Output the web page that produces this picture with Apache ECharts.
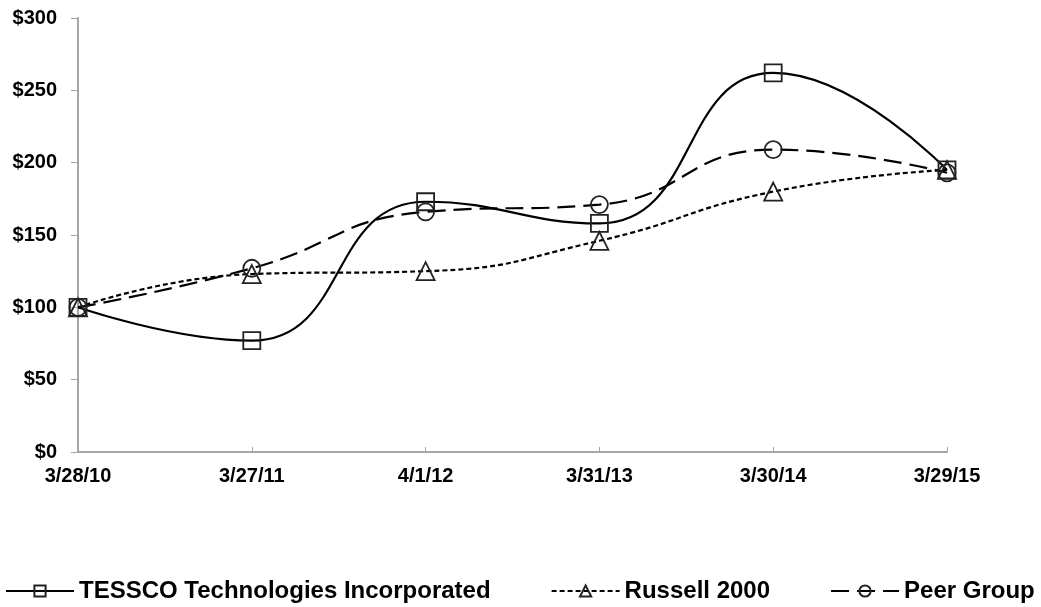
<!DOCTYPE html>
<html><head><meta charset="utf-8">
<script src="https://cdn.jsdelivr.net/npm/echarts@6/dist/echarts.min.js"></script>
<style>html,body{margin:0;padding:0;background:#fff}#c{width:1041px;height:607px}</style>
</head><body><div id="c"></div>
<script>
var categories = ['3/28/10','3/27/11','4/1/12','3/31/13','3/30/14','3/29/15'];
var tessco = [100, 77, 173, 158, 262, 195];
var russell = [100, 123, 125, 146, 180, 195];
var peer = [100, 127, 166, 171, 209, 193];
var names = ['TESSCO Technologies Incorporated','Russell 2000','Peer Group'];

var font = 'Liberation Sans, Arial, sans-serif';
var chart = echarts.init(document.getElementById('c'));
function mk(name, data, symbol, size, dash) {
  return {
    name: name, type: 'line', data: data, smooth: 0.5,
    symbol: symbol, symbolSize: size,
    lineStyle: {color: '#000', width: 2.2, type: dash},
    itemStyle: {color: 'rgba(255,255,255,0)', borderColor: '#222', borderWidth: 1.8},
    z: 2
  };
}
chart.setOption({
  animation: false,
  grid: {left: 78, right: 94, top: 18, bottom: 155},
  legend: {
    top: 579, left: 5, width: 1036, padding: 0, itemWidth: 68, itemHeight: 14, itemGap: 60,
    textStyle: {fontFamily: font, fontWeight: 'bold', fontSize: 24, color: '#000'},
    data: names
  },
  xAxis: {
    type: 'category', data: categories, boundaryGap: false,
    axisLine: {lineStyle: {color: '#a6a6a6', width: 2}},
    axisTick: {inside: true, length: 5, lineStyle: {color: '#a6a6a6', width: 1}},
    axisLabel: {fontFamily: font, fontWeight: 'bold', fontSize: 20, color: '#000', margin: 14}
  },
  yAxis: {
    type: 'value', min: 0, max: 300, interval: 50,
    splitLine: {show: false},
    axisLine: {show: true, lineStyle: {color: '#a6a6a6', width: 2}},
    axisTick: {show: true, length: 7, lineStyle: {color: '#a6a6a6', width: 1}},
    axisLabel: {fontFamily: font, fontWeight: 'bold', fontSize: 20, color: '#000', margin: 21,
      formatter: function(v){return '$' + v;}}
  },
  series: [
    mk(names[0], tessco, 'rect', 17, 'solid'),
    mk(names[1], russell, 'triangle', 18, [5, 3]),
    mk(names[2], peer, 'circle', 17, [18, 8])
  ]
});
</script></body></html>
